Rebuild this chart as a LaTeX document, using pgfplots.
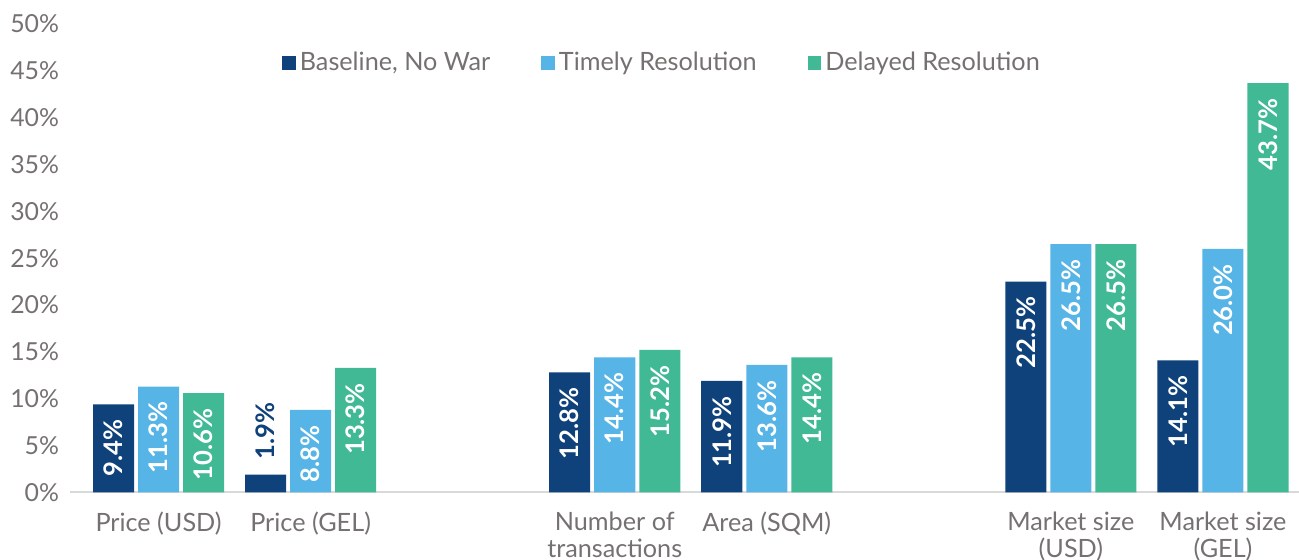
\documentclass[border=0pt]{standalone}
\usepackage{fontspec}
\setmainfont{Lato}
\usepackage{pgfplots}
\pgfplotsset{compat=1.18}

\definecolor{cDark}{HTML}{0F417A}
\definecolor{cLight}{HTML}{56B4E6}
\definecolor{cGreen}{HTML}{40B994}
\definecolor{cText}{HTML}{767171}
\definecolor{cAxis}{HTML}{D9D9D9}

\begin{document}
\begin{tikzpicture}
\begin{axis}[
  scale only axis,
  width=614bp, height=234bp,
  xmin=-0.582, xmax=7.5,
  ymin=0, ymax=50,
  ybar=2bp,
  bar width=20.5bp,
  clip=false,
  axis x line=bottom,
  axis y line=left,
  axis line style={-},
  x axis line style={draw=cAxis, line width=1bp},
  y axis line style={draw=none},
  major tick length=0pt,
  xtick={0,1,3,4,6,7},
  xticklabels={Price (USD), Price (GEL), Number of\\transactions, Area (SQM), Market size\\(USD), Market size\\(GEL)},
  xticklabel style={font=\fontsize{12.6bp}{13.4bp}\selectfont, text=cText, align=center, anchor=north, yshift=-6.5bp},
  ytick={0,5,...,50},
  yticklabel={\pgfmathprintnumber{\tick}\%},
  yticklabel style={font=\fontsize{12.4bp}{14bp}\selectfont, text=cText, anchor=east, xshift=-2bp},
  /pgf/number format/assume math mode=true,
  nodes near coords={\pgfmathprintnumber[fixed,fixed zerofill,precision=1]{\pgfplotspointmeta}\%},
  every node near coord/.append style={font=\fontsize{12.8bp}{14bp}\selectfont\bfseries, text=white,
    rotate=90, anchor=east, inner xsep=7.5bp, inner ysep=0pt},
  legend style={at={(rel axis cs:0.4825,0.917)}, anchor=center, draw=none, fill=none,
    font=\fontsize{12.6bp}{14bp}\selectfont, text=cText,
    /tikz/every even column/.append style={column sep=23.5bp}},
  legend columns=-1,
  legend image code/.code={\fill[#1] (0bp,-3.4bp) rectangle (6.8bp,3.4bp);},
]
\addplot[fill=cDark, draw=none, point meta=explicit symbolic, nodes near coords={\pgfplotspointmeta}]
  coordinates {(0,9.4) [9.4\%] (1,1.9) [] (3,12.8) [12.8\%] (4,11.9) [11.9\%] (6,22.5) [22.5\%] (7,14.1) [14.1\%]};
\addplot[fill=cLight, draw=none]
  coordinates {(0,11.3) (1,8.8) (3,14.4) (4,13.6) (6,26.5) (7,26.0)};
\addplot[fill=cGreen, draw=none]
  coordinates {(0,10.6) (1,13.3) (3,15.2) (4,14.4) (6,26.5) (7,43.7)};
\legend{Baseline{,} No War, Timely Resolution, Delayed Resolution}

% small bar: label sits above it
\node[font=\fontsize{12.8bp}{14bp}\selectfont\bfseries, text=cDark, rotate=90, anchor=west,
  inner xsep=7.5bp, inner ysep=0pt] at ([xshift=-22.5bp]axis cs:1,1.9) {1.9\%};

\coordinate (bl) at (rel axis cs:0,0);
\coordinate (tr) at (rel axis cs:1,1);
\end{axis}
\pgfresetboundingbox
\path[use as bounding box] ([xshift=-35bp,yshift=-33.5bp]bl) rectangle ([yshift=12bp]tr);
\end{tikzpicture}
\end{document}
